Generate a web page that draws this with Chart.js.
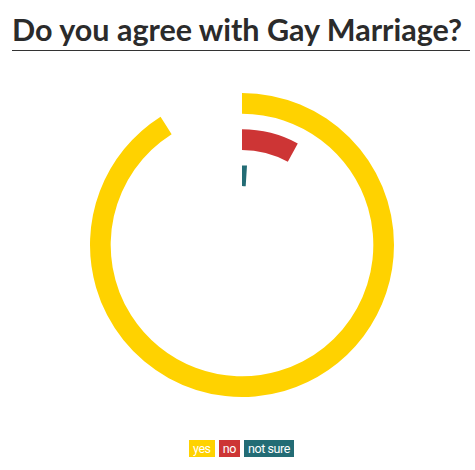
<!DOCTYPE html>
<html>
<head>
<meta charset="utf-8">
<script src="https://cdn.jsdelivr.net/npm/chart.js@4"></script>
<style>
  html, body { margin: 0; padding: 0; background: #fff; }
  body { width: 475px; height: 470px; position: relative; overflow: hidden; }
  h1 {
    position: absolute; left: 12px; top: 12px; margin: 0;
    width: 458px; padding-bottom: 3px;
    font-family: "Lato", sans-serif; font-weight: 700; font-size: 30.5px;
    line-height: 35px; color: #2b2b2b; border-bottom: 1.5px solid #333;
    white-space: nowrap;
  }
  #box { position: absolute; left: 81.5px; top: 84.5px; width: 320px; height: 320px; }
  #legend {
    position: absolute; left: 0; width: 483px; top: 440px;
    text-align: center; font-size: 0;
  }
  #legend span {
    display: inline-block; height: 17px; line-height: 17px; padding: 0 4px;
    margin: 0 2px; color: #fff; font-size: 12.5px; letter-spacing: -0.4px;
    font-family: "Liberation Sans Narrow", "Roboto", sans-serif;
  }
</style>
</head>
<body>
<h1>Do you agree with Gay Marriage?</h1>
<div id="box"><canvas id="chart"></canvas></div>
<div id="legend"></div>
<script>
const answers = ['yes', 'no', 'not sure'];
const shares = [91, 8, 1];          // percent of respondents
const colors = ['#ffd200', '#cd3535', '#236c75'];

// one ring per answer, with a transparent spacer ring between them
const datasets = [];
answers.forEach(function (a, i) {
    if (i > 0) {
        datasets.push({ data: [100], backgroundColor: ['rgba(0,0,0,0)'], borderWidth: 0, weight: 0.75 });
    }
    datasets.push({
        label: a,
        data: [shares[i], 100 - shares[i]],
        backgroundColor: [colors[i], 'rgba(0,0,0,0)'],
        borderWidth: 0,
        weight: 1
    });
});

new Chart(document.getElementById('chart'), {
    type: 'doughnut',
    data: { labels: answers, datasets: datasets },
    options: {
        responsive: true,
        maintainAspectRatio: false,
        animation: false,
        radius: 152,
        cutout: 62,
        layout: { padding: 0 },
        plugins: { legend: { display: false }, tooltip: { enabled: false } },
        events: []
    }
});

const legend = document.getElementById('legend');
answers.forEach(function (a, i) {
    const s = document.createElement('span');
    s.textContent = a;
    s.style.background = colors[i];
    legend.appendChild(s);
});
</script>
</body>
</html>
